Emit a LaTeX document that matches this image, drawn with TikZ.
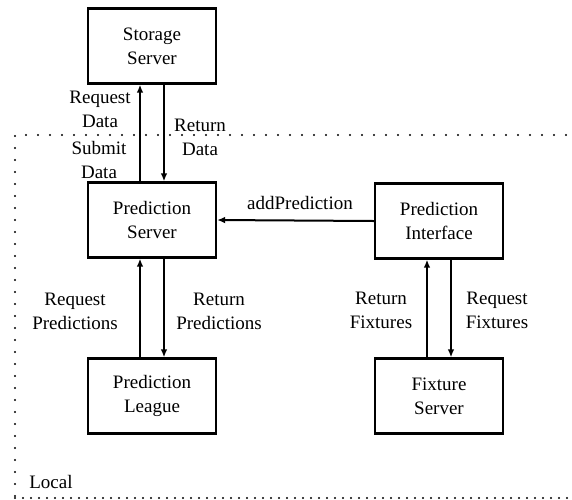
\documentclass[tikz,border=0pt]{standalone}
\usepackage{fontspec}
\setmainfont{LiberationSerif}[
  Extension=.ttf,
  UprightFont=*-Regular,
  BoldFont=*-Bold,
  ItalicFont=*-Italic]
\usetikzlibrary{arrows.meta}

\tikzset{
  component/.style={draw, line width=1.2pt, minimum width=64pt, minimum height=37.5pt,
    align=center, inner sep=0pt},
  flow/.style={line width=1pt, -{Latex[length=4pt,width=3.4pt]}},
  note/.style={align=center, inner sep=0pt},
  boundary/.style={line width=1.1pt, line cap=round, dash pattern=on 0pt off 6pt},
  boundarybottom/.style={line width=1.1pt, line cap=round, dash pattern=on 0pt off 4pt}
}

\begin{document}
\begin{tikzpicture}[x=0.5pt, y=-0.5pt]
  \fontsize{9.5}{12}\selectfont
  \useasboundingbox (0,0) rectangle (572,499);

  % --- Local boundary ---
  \coordinate (tl) at (15,135);
  \coordinate (tr) at (566,135);
  \coordinate (bl) at (15,498);
  \coordinate (br) at (572,498);
  \draw[boundary] (tr) -- (tl) -- (bl);
  \draw[boundarybottom] (bl) -- (br);
  \node[note] (local) at (51,482) {Local};

  % --- Components ---
  \node[component] (storage)   at (152,46)  {Storage\\Server};
  \node[component] (pserver)   at (152,220) {Prediction\\Server};
  \node[component] (league)    at (152,396) {Prediction\\League};
  \node[component] (interface) at (439,221) {Prediction\\Interface};
  \node[component] (fixture)   at (439,396) {Fixture\\Server};

  % --- Data flows ---
  \draw[flow] ([xshift=-6pt]pserver.north) -- ([xshift=-6pt]storage.south);
  \draw[flow] ([xshift=6pt]storage.south) -- ([xshift=6pt]pserver.north);
  \draw[flow] ([xshift=-6pt]league.north) -- ([xshift=-6pt]pserver.south);
  \draw[flow] ([xshift=6pt]pserver.south) -- ([xshift=6pt]league.north);
  \draw[flow] ([xshift=-6pt]fixture.north) -- ([xshift=-6pt]interface.south);
  \draw[flow] ([xshift=6pt]interface.south) -- ([xshift=6pt]fixture.north);
  \draw[flow] (interface.west) -- (pserver.east);

  % --- Labels ---
  \node[note] (reqdata)  at (100,109) {Request\\Data};
  \node[note] (subdata)  at (99,160)  {Submit\\Data};
  \node[note] (retdata)  at (200,137) {Return\\Data};
  \node[note] (reqpred)  at (75,311)  {Request\\Predictions};
  \node[note] (retpred)  at (219,311) {Return\\Predictions};
  \node[note] (retfix)   at (381,310) {Return\\Fixtures};
  \node[note] (reqfix)   at (497,310) {Request\\Fixtures};
  \node[note] (addpred)  at (300,203) {addPrediction};

\end{tikzpicture}
\end{document}
